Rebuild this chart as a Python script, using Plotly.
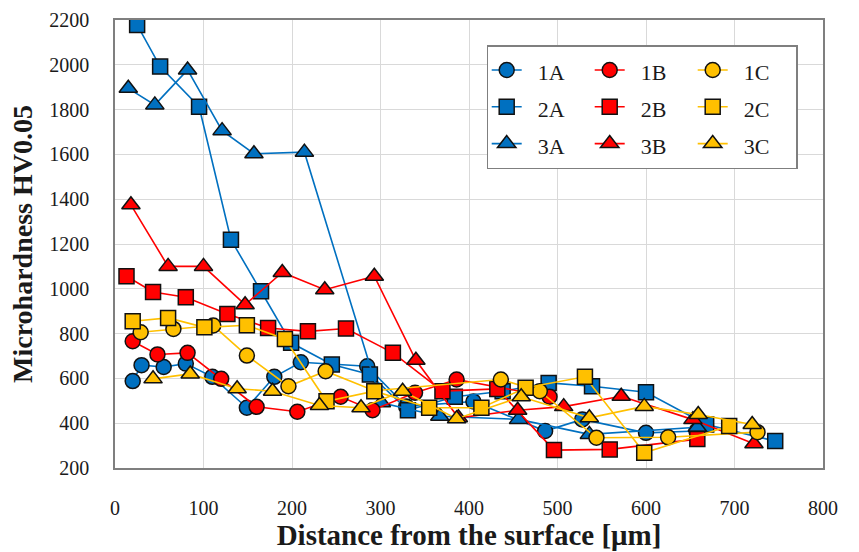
import plotly.graph_objects as go

# ---- data (distance in µm, microhardness HV0.05) ----
x_1A = [20, 30, 55, 80, 110, 149, 180, 210, 285, 329, 405, 486, 528, 600, 657]
y_1A = [588, 659, 651, 666, 607, 469, 607, 672, 654, 475, 497, 365, 417, 357, 365]

x_2A = [25, 51, 95, 131, 165, 199, 245, 288, 331, 384, 438, 490, 539, 600, 668, 746]
y_2A = [2178, 1992, 1813, 1219, 989, 759, 662, 617, 458, 518, 543, 580, 565, 538, 394, 320]

x_3A = [15, 45, 82, 121, 157, 214, 301, 367, 456, 536, 658]
y_3A = [1895, 1821, 1977, 1706, 1603, 1610, 491, 431, 417, 350, 382]

x_1B = [20, 48, 82, 120, 160, 206, 255, 291, 339, 386, 491]
y_1B = [766, 707, 714, 598, 473, 451, 518, 458, 536, 595, 518]

x_2B = [13, 43, 80, 127, 173, 218, 261, 314, 370, 432, 496, 559, 658]
y_2B = [1056, 986, 962, 888, 825, 810, 823, 714, 543, 553, 280, 283, 329]

x_3B = [18, 60, 100, 147, 189, 237, 293, 340, 388, 455, 507, 572, 653, 722]
y_3B = [1375, 1100, 1100, 929, 1073, 996, 1056, 681, 424, 458, 474, 520, 416, 308]

x_1C = [29, 66, 111, 149, 196, 238, 293, 436, 480, 544, 625, 726]
y_1C = [806, 821, 836, 702, 565, 632, 545, 595, 543, 335, 337, 360]

x_2C = [20, 60, 101, 149, 192, 239, 293, 355, 414, 464, 531, 598, 694]
y_2C = [855, 870, 828, 837, 776, 498, 543, 469, 469, 558, 607, 268, 387]

x_3C = [43, 85, 138, 178, 231, 278, 325, 386, 459, 536, 598, 659, 720]
y_3C = [598, 620, 554, 543, 479, 469, 543, 420, 518, 424, 475, 439, 394]

x_ticks = [0, 100, 200, 300, 400, 500, 600, 700, 800]
y_ticks = [200, 400, 600, 800, 1000, 1200, 1400, 1600, 1800, 2000, 2200]

BLUE = "#0070C0"
RED = "#FF0000"
YELLOW = "#FFC000"
FONT = "Liberation Serif"

series = [
    ("1A", x_1A, y_1A, BLUE, "circle", "A"),
    ("2A", x_2A, y_2A, BLUE, "square", "A"),
    ("3A", x_3A, y_3A, BLUE, "triangle-up", "A"),
    ("1B", x_1B, y_1B, RED, "circle", "B"),
    ("2B", x_2B, y_2B, RED, "square", "B"),
    ("3B", x_3B, y_3B, RED, "triangle-up", "B"),
    ("1C", x_1C, y_1C, YELLOW, "circle", "C"),
    ("2C", x_2C, y_2C, YELLOW, "square", "C"),
    ("3C", x_3C, y_3C, YELLOW, "triangle-up", "C"),
]

sizes = {"circle": 15, "square": 15, "triangle-up": 16}

fig = go.Figure()
for name, xs, ys, col, sym, grp in series:
    fig.add_trace(go.Scatter(
        x=xs, y=ys, mode="lines+markers",
        name='<span style="font-size:22px">\u2002' + name + '</span>',
        legendgroup=grp,
        line=dict(color=col, width=1.6),
        marker=dict(symbol=sym, size=sizes[sym], color=col,
                    line=dict(color="#111111", width=1.5)),
    ))

fig.update_layout(
    width=859, height=552,
    margin=dict(l=115, r=36, t=20, b=84),
    paper_bgcolor="white", plot_bgcolor="white",
    font=dict(family=FONT, color="#1a1a1a", size=19),
    showlegend=True,
    legend=dict(
        x=0.525, y=0.944, xanchor="left", yanchor="top",
        orientation="h", traceorder="grouped",
        entrywidth=58, tracegroupgap=0,
        bordercolor="#7f7f7f", borderwidth=1.5, bgcolor="white",
        font=dict(family=FONT, size=26, color="#1a1a1a"),
    ),
)

fig.update_xaxes(
    range=[0, 800], tickvals=x_ticks, ticktext=[str(v) for v in x_ticks],
    automargin=False,
    showgrid=True, gridcolor="#d9d9d9", gridwidth=1,
    showline=True, linecolor="#7f7f7f", linewidth=1.5, mirror=True,
    ticks="", zeroline=False, ticklabelstandoff=21,
    tickfont=dict(family=FONT, size=20, color="#1a1a1a"),
    title=dict(text="<b>Distance from the surface [μm]</b>", standoff=4,
               font=dict(family=FONT, size=29, color="#1a1a1a")),
)
fig.update_yaxes(
    range=[200, 2200], tickvals=y_ticks, ticktext=[str(v) for v in y_ticks],
    automargin=False,
    showgrid=True, gridcolor="#d9d9d9", gridwidth=1,
    showline=True, linecolor="#7f7f7f", linewidth=1.5, mirror=True,
    ticks="", zeroline=False, ticklabelstandoff=20,
    tickfont=dict(family=FONT, size=20, color="#1a1a1a"),
    title=dict(text="<b>Microhardness HV0.05</b>", standoff=8,
               font=dict(family=FONT, size=28, color="#1a1a1a")),
)

fig.write_html("out.html")
